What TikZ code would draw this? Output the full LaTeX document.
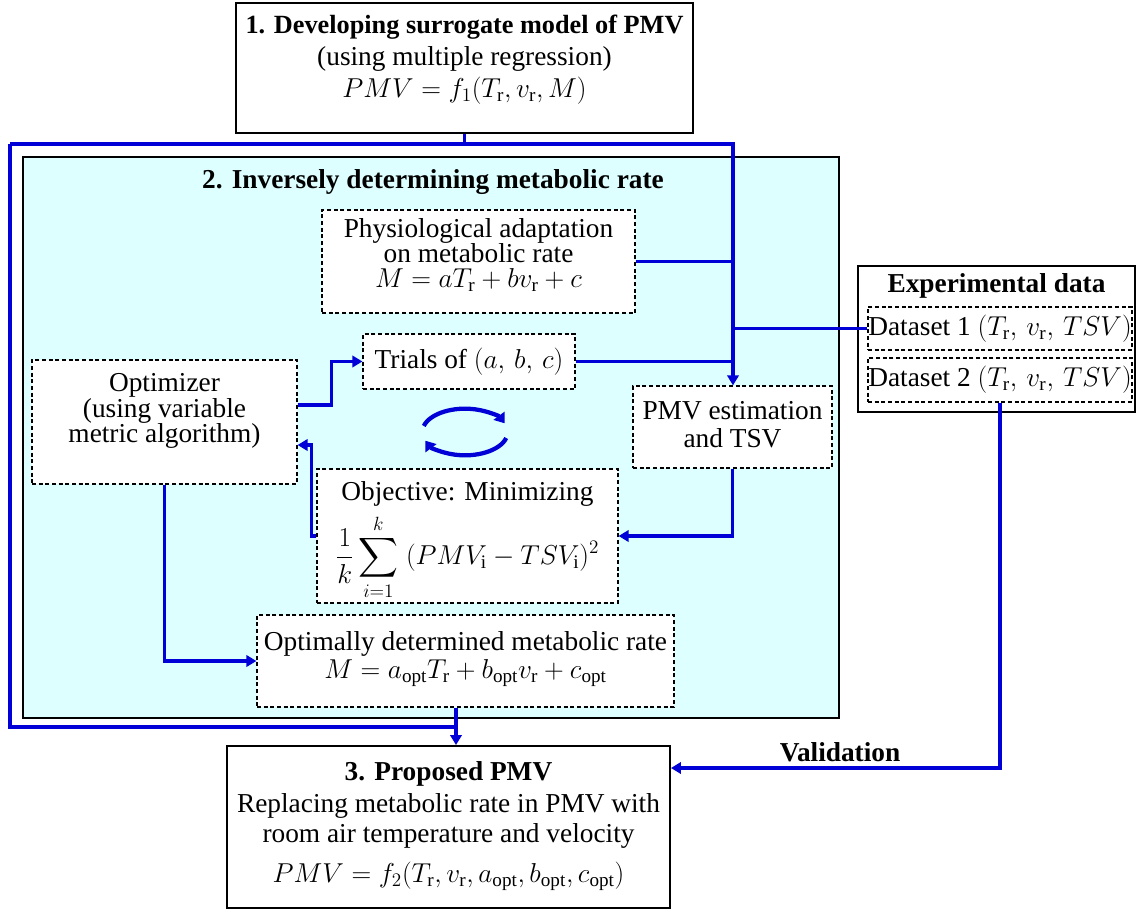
\RequirePackage{fix-cm}
\documentclass[tikz,border=0pt]{standalone}
\usepackage{amsmath}
\usepackage{fontspec}
\setmainfont{Liberation Serif}
\usetikzlibrary{arrows.meta,fit,calc}
\definecolor{panelcyan}{RGB}{221,255,255}
\definecolor{lineblue}{RGB}{0,0,215}
\newcommand{\myfs}{\fontsize{20.5}{19}\selectfont}
\tikzset{
  txt/.style={font=\myfs, align=center, inner sep=0pt},
  btxt/.style={font=\myfs\bfseries, align=center, inner sep=0pt},
  solidbox/.style={draw=black, line width=1.4pt, fill=white, inner sep=0pt},
  dbox/.style={draw=black, line width=0.9pt, dash pattern=on 3pt off 2pt, fill=white, inner sep=0pt},
  bl/.style={draw=lineblue, line width=2.8pt},
  arr/.style={bl, -{Triangle[length=7.5pt,width=8.5pt]}},
  cyc/.style={draw=lineblue, line width=3.2pt, -{Triangle[length=7pt,width=10pt]}},
}
\begin{document}
\begin{tikzpicture}[x=0.75pt,y=-0.75pt]
\fill[white] (0,0) rectangle (1137,912);
\useasboundingbox (0,0) rectangle (1137,912);

% panel
\node[draw=black, line width=1.2pt, fill=panelcyan, inner sep=0pt, fit={(23,157) (839,718)}] (panel) {};
\node[btxt] (ptitle) at (433,182) {2. Inversely determining metabolic rate};

% box 1
\node[solidbox, fit={(236,3) (693,133)}] (box1) {};
\node[txt] (box1t) at (464.5,60) {{\fontsize{19.7}{19}\selectfont\bfseries 1. Developing surrogate model of PMV}\\[5pt](using multiple regression)\\[3pt]$PMV = f_1(T_{\mathrm{r}}, v_{\mathrm{r}}, M)$};

% inner boxes
\node[dbox, fit={(322,210) (635,313)}] (phys) {};
\node[txt] (physt) at (478.5,255) {Physiological adaptation\\on metabolic rate\\$M = aT_{\mathrm{r}} + bv_{\mathrm{r}} + c$};

\node[dbox, fit={(363,334) (575,389)}] (trials) {};
\node[txt] (trialst) at (469,361.5) {Trials of $(a,\, b,\, c)$};

\node[dbox, fit={(32,360) (297,484)}] (optz) {};
\node[txt] (optzt) at (164.5,411) {Optimizer\\(using variable\\metric algorithm)};

\node[dbox, fit={(633,386) (832,468)}] (pmvest) {};
\node[txt] (pmvestt) at (732.5,425) {PMV estimation\\[2pt]and TSV};

\node[dbox, fit={(317,469) (618,603)}] (obj) {};
\node[txt] (objt) at (467.5,494) {Objective: Minimizing};
\node[txt] (objf) at (467.5,557) {$\displaystyle \frac{1}{k}\sum_{i=1}^{k}\;(PMV_{\mathrm{i}} - TSV_{\mathrm{i}})^2$};

\node[dbox, fit={(257,615) (674,707)}] (optm) {};
\node[txt] (optmt) at (465.5,659) {Optimally determined metabolic rate\\[2pt]$M = a_{\mathrm{opt}}T_{\mathrm{r}} + b_{\mathrm{opt}}v_{\mathrm{r}} + c_{\mathrm{opt}}$};

% experimental data
\node[solidbox, fit={(858,266) (1135,412)}] (exp) {};
\node[btxt] (expt) at (996.5,286) {Experimental data};
\node[dbox, fit={(868,307) (1132,350)}] (ds1) {};
\node[txt] (ds1t) at (1000,328.5) {Dataset 1 $(T_{\mathrm{r}},\, v_{\mathrm{r}},\, TSV)$};
\node[dbox, fit={(868,358) (1132,402)}] (ds2) {};
\node[txt] (ds2t) at (1000,380) {Dataset 2 $(T_{\mathrm{r}},\, v_{\mathrm{r}},\, TSV)$};

% box 3
\node[solidbox, fit={(227,746) (670,908)}] (box3) {};
\node[txt] (box3t) at (448.5,826) {\textbf{3. Proposed PMV}\\[5pt]Replacing metabolic rate in PMV with\\[4pt]room air temperature and velocity\\[9pt]$PMV = f_2(T_{\mathrm{r}}, v_{\mathrm{r}}, a_{\mathrm{opt}}, b_{\mathrm{opt}}, c_{\mathrm{opt}})$};

\node[btxt] (valid) at (840,752) {Validation};

% coordinates
\coordinate (ltop) at (10,144);
\coordinate (rtop) at (733,144);
\coordinate (lbot) at (10,727);
\coordinate (jbot) at (456,727);
\coordinate (cyc) at (465,432);

% connectors
\draw[bl] (box1.south) -- (box1.south |- rtop);
\draw[bl] (ltop) -- (lbot) -- (jbot);
\draw[arr] (optm.south -| jbot) -- (jbot |- box3.north);
\draw[arr] (ltop) -- (rtop) -- (rtop |- pmvest.north);
\draw[bl] (phys.east) -- (phys.east -| rtop);
\draw[bl] (trials.east) -- (trials.east -| rtop);
\draw[bl] (ds1.west) -- (ds1.west -| rtop);
\draw[arr] ([yshift=12.75pt]optz.east) -- ++(34,0) |- (trials.west);
\draw[arr] (pmvest.south) |- (obj.east);
\draw[arr] (obj.west) -- ++(-5,0) |- ([yshift=-17.25pt]optz.east);
\draw[arr] (optz.south) |- (optm.west);
\draw[arr] (ds2.south) |- ([yshift=44.25pt]box3.east);

% cycle arrows
\draw[cyc] ($(cyc)+(165:32pt and 17.5pt)$) arc[start angle=165, end angle=22, x radius=32pt, y radius=17.5pt];
\draw[cyc] ($(cyc)+(-15:32pt and 17.5pt)$) arc[start angle=-15, end angle=-158, x radius=32pt, y radius=17.5pt];
\end{tikzpicture}
\end{document}
